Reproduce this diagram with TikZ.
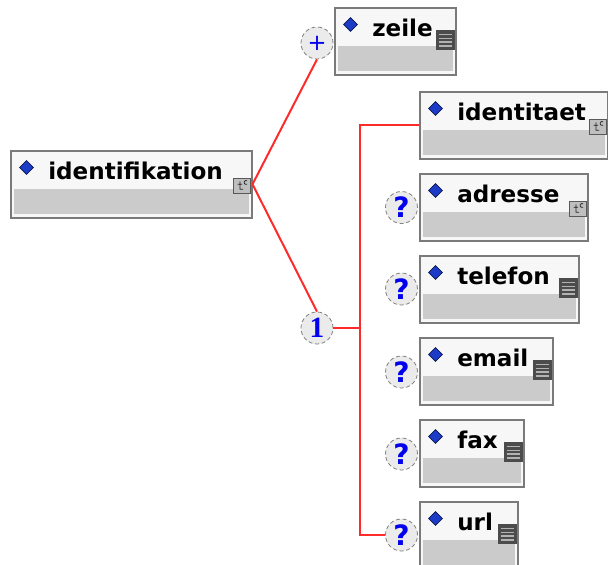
\documentclass[tikz,border=0pt]{standalone}
\usepackage{fontspec}
\setmainfont{DejaVu Sans}
\newfontfamily\seqfont{Liberation Serif}
\usepackage{xcolor}
\usepackage{tikz}
\usetikzlibrary{calc,shapes}
\definecolor{boxline}{HTML}{7A7A7A}
\definecolor{boxtop}{HTML}{F7F7F7}
\definecolor{boxband}{HTML}{CBCBCB}
\definecolor{diablue}{HTML}{1C3CC8}
\definecolor{conred}{HTML}{FF2A2A}
\definecolor{occblue}{HTML}{0000EE}
\newcommand{\pxu}{0.75pt}% one pixel of the screenshot
\tikzset{
  elembox/.style = {rectangle, anchor=north west, draw=boxline, fill=boxtop,
    line width=1.5*\pxu, inner sep=0pt, minimum height=67*\pxu,
    path picture={\fill[boxband]
      ([shift={(2.25pt,3pt)}]path picture bounding box.south west) rectangle
      ([shift={(-2.25pt,21.75pt)}]path picture bounding box.south east);}},
  eltext/.style = {anchor=base west, inner sep=0pt,
    font=\fontsize{17.3pt}{17.3pt}\selectfont\bfseries},
  eldia/.style = {diamond, fill=diablue, draw=diablue!40!black, line width=0.5pt,
    minimum size=14*\pxu, inner sep=0pt},% element marker
  cplx/.style = {rectangle, anchor=south east, draw=black!65, fill=black!25,
    line width=0.7pt, minimum width=17*\pxu, minimum height=15*\pxu, inner sep=0pt,
    path picture={\draw[black!85, line width=0.6pt]
      ([shift={(-1.6pt,3.2pt)}]path picture bounding box.center) -- ++(0,-6pt) -- ++(2.4pt,0)
      ([shift={(-3.4pt,1pt)}]path picture bounding box.center) -- ++(3.4pt,0)
      ([shift={(3.8pt,3.6pt)}]path picture bounding box.center)
        arc[start angle=60, end angle=300, radius=1.5pt];}},% complex type
  smpl/.style = {rectangle, anchor=south east, fill=black!70,
    minimum width=19*\pxu, minimum height=20*\pxu, inner sep=0pt,
    path picture={\foreach \k in {-4.2,-1.4,1.4,4.2}
      \draw[black!30, line width=1.1pt]
        ([shift={(-5pt,\k pt)}]path picture bounding box.center) -- ++(10pt,0);}},% simple type
  occ/.style = {circle, draw=black!50, densely dashed, line width=0.6pt,
    fill=black!8, text=occblue, minimum size=32*\pxu, inner sep=0pt},
  optq/.style = {occ, font=\fontsize{21pt}{21pt}\selectfont\bfseries},
  conn/.style = {draw=conred, line width=2*\pxu}
}
% name, left, top, width, type icon
\newcommand{\xsdelem}[5]{%
  \node[elembox, minimum width=#4*\pxu] (#1) at (#2,#3) {};
  \node[eldia] (#1-dia) at ($(#1.north west)+(16.5,17.5)$) {};
  \node[eltext] (#1-txt) at ($(#1.north west)+(38,29)$) {#1};
  \node[#5] (#1-ico) at ($(#1.north east)+(-1.5,43.5)$) {};
}

\begin{document}
\begin{tikzpicture}[x=0.75pt, y=-0.75pt]
\useasboundingbox (0,0) rectangle (608,565);
\xsdelem{identifikation}{10}{150}{241}{cplx}
\xsdelem{zeile}{334}{7}{121}{smpl}
\xsdelem{identitaet}{419}{91}{188}{cplx}
\xsdelem{adresse}{419}{173}{168}{cplx}
\xsdelem{telefon}{419}{255}{159}{smpl}
\xsdelem{email}{419}{337}{133}{smpl}
\xsdelem{fax}{419}{419}{104}{smpl}
\xsdelem{url}{419}{501}{98}{smpl}
% occurrence marks
\node[occ, font=\fontsize{17pt}{17pt}\selectfont] (plus) at (317,43) {+};
\node[occ, font=\fontsize{22pt}{22pt}\seqfont\bfseries] (choice) at (317,328) {1};
\node[optq] (adresse-opt) at (401.5,207.5) {?};
\node[optq] (telefon-opt) at (401.5,289) {?};
\node[optq] (email-opt) at (401.5,372) {?};
\node[optq] (fax-opt) at (401.5,454) {?};
\node[optq] (url-opt) at (401.5,535) {?};
% connectors
\coordinate (bar) at (360,0);
\draw[conn] (identifikation.east) -- (plus.south);
\draw[conn] (identifikation.east) -- (choice.north);
\draw[conn] (choice.east) -- (choice.east -| bar);
\draw[conn] (identitaet.west) -- (identitaet.west -| bar) |- (url-opt.west);
\end{tikzpicture}
\end{document}
